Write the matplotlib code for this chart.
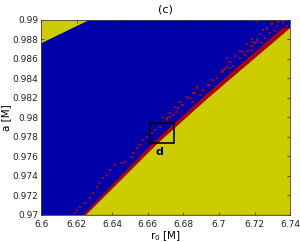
import numpy as np
import matplotlib
matplotlib.use('Agg')
import matplotlib.pyplot as plt
from matplotlib.patches import Rectangle

# boundary between the blue and yellow regions
edge_r0 = [6.6253, 6.6500, 6.6658, 6.6939, 6.7400]
edge_a = [0.9700, 0.97450, 0.97737, 0.98197, 0.98913]
# width (in r0) of the dense red band sitting on the boundary
band_w = [0.0018, 0.0024, 0.0028, 0.0033, 0.0042]

# small yellow corner at top left
corner_r0 = [6.6, 6.6275, 6.6]
corner_a = [0.98757, 0.99, 0.99]

# scattered red cells above the boundary
speck_r0 = [6.7297, 6.7334, 6.7362, 6.7246, 6.7288, 6.7316, 6.7259, 6.7213, 6.7203, 6.7185,
            6.7241, 6.7044, 6.7119, 6.7147, 6.7166, 6.7081, 6.7063, 6.7025, 6.7016, 6.6988,
            6.6960, 6.6950, 6.6913, 6.6875, 6.6866, 6.6894, 6.7185, 6.7269, 6.7325,
            6.6791, 6.6772, 6.6744, 6.6725, 6.6707, 6.6688, 6.6669, 6.6641, 6.6622, 6.6594,
            6.6575, 6.6557, 6.6538, 6.6519, 6.6510,
            6.6416, 6.6454, 6.6472, 6.6388, 6.6369, 6.6350, 6.6332, 6.6313, 6.6294, 6.6275,
            6.6247, 6.6219, 6.6201, 6.6191,
            6.7213, 6.7297, 6.7362, 6.7381, 6.7269, 6.7316, 6.7231, 6.7185, 6.7157, 6.7194,
            6.7119, 6.7091, 6.7137, 6.7063, 6.7035, 6.7016, 6.7044,
            6.6960, 6.6941, 6.6875, 6.6913, 6.6856, 6.6894, 6.6819, 6.6782, 6.6856, 6.6800,
            6.6753, 6.6763, 6.6725, 6.6707, 6.6688, 6.6838]
speck_a = [0.98964, 0.98974, 0.98982, 0.98896, 0.98862, 0.98879, 0.98811, 0.98793, 0.98760, 0.98726,
           0.98760, 0.98606, 0.98606, 0.98640, 0.98675, 0.98521, 0.98504, 0.98470, 0.98486, 0.98402,
           0.98384, 0.98333, 0.98282, 0.98299, 0.98248, 0.98231, 0.98691, 0.98913, 0.98930,
           0.98125, 0.98092, 0.98023, 0.98006, 0.97972, 0.97955, 0.97903, 0.97870, 0.97836, 0.97801,
           0.97767, 0.97716, 0.97682, 0.97631, 0.97596,
           0.97512, 0.97529, 0.97545, 0.97460, 0.97409, 0.97375, 0.97324, 0.97290, 0.97222, 0.97171,
           0.97120, 0.97085, 0.97051, 0.97017,
           0.98988, 0.98954, 0.98971, 0.98937, 0.98903, 0.98885, 0.98852, 0.98801, 0.98749, 0.98767,
           0.98681, 0.98630, 0.98664, 0.98562, 0.98494, 0.98460, 0.98511,
           0.98381, 0.98330, 0.98313, 0.98279, 0.98245, 0.98228, 0.98210, 0.98159, 0.98159, 0.98125,
           0.98108, 0.98057, 0.98040, 0.97989, 0.98006, 0.98194]

# zoom box "d"
box_r0 = [6.6613, 6.6748]
box_a = [0.9774, 0.9794]

xticks = [6.6, 6.62, 6.64, 6.66, 6.68, 6.7, 6.72, 6.74]
xlabels = ['6.6', '6.62', '6.64', '6.66', '6.68', '6.7', '6.72', '6.74']
yticks = [0.97, 0.972, 0.974, 0.976, 0.978, 0.98, 0.982, 0.984, 0.986, 0.988, 0.99]
ylabels = ['0.97', '0.972', '0.974', '0.976', '0.978', '0.98', '0.982', '0.984', '0.986', '0.988', '0.99']

blue = '#0000A8'
yellow = '#CCCC00'
red = '#B40000'

fig = plt.figure(figsize=(3.0, 2.42), dpi=100)
ax = fig.add_axes([0.137, 0.112, 0.830, 0.807])
ax.set_facecolor(blue)

er = np.array(edge_r0)
ea = np.array(edge_a)
bw = np.array(band_w)
# red band just above the boundary
ax.fill(np.concatenate([er - bw, er[::-1]]), np.concatenate([ea, ea[::-1]]), color=red, lw=0)
ax.scatter(speck_r0, speck_a, marker='s', s=4, color=red, lw=0)
# yellow region below the boundary
ax.fill(list(er) + [6.74], list(ea) + [0.97], color=yellow, lw=0)
ax.fill(corner_r0, corner_a, color=yellow, lw=0)

ax.add_patch(Rectangle((box_r0[0], box_a[0]), box_r0[1] - box_r0[0], box_a[1] - box_a[0],
                       fill=False, ec='black', lw=1.2))
ax.text(6.6667, 0.9764, 'd', ha='center', va='center', fontsize=8, fontweight='bold')

ax.set_xlim(6.6, 6.74)
ax.set_ylim(0.97, 0.99)
ax.set_xticks(xticks)
ax.set_xticklabels(xlabels)
ax.set_yticks(yticks)
ax.set_yticklabels(ylabels)
ax.tick_params(direction='in', length=2, width=0.5, labelsize=6.5, top=True, right=True,
               colors='#222222')
ax.tick_params(axis='x', pad=4)
ax.tick_params(axis='y', pad=2)
for s in ax.spines.values():
    s.set_linewidth(0.6)
    s.set_color('#444444')

ax.set_xlabel('r$_0$ [M]', fontsize=7.5, labelpad=0)
ax.set_ylabel('a [M]', fontsize=7.5, labelpad=1)
ax.set_title('(c)', fontsize=8, pad=5)

fig.savefig('out.png', dpi=100)
